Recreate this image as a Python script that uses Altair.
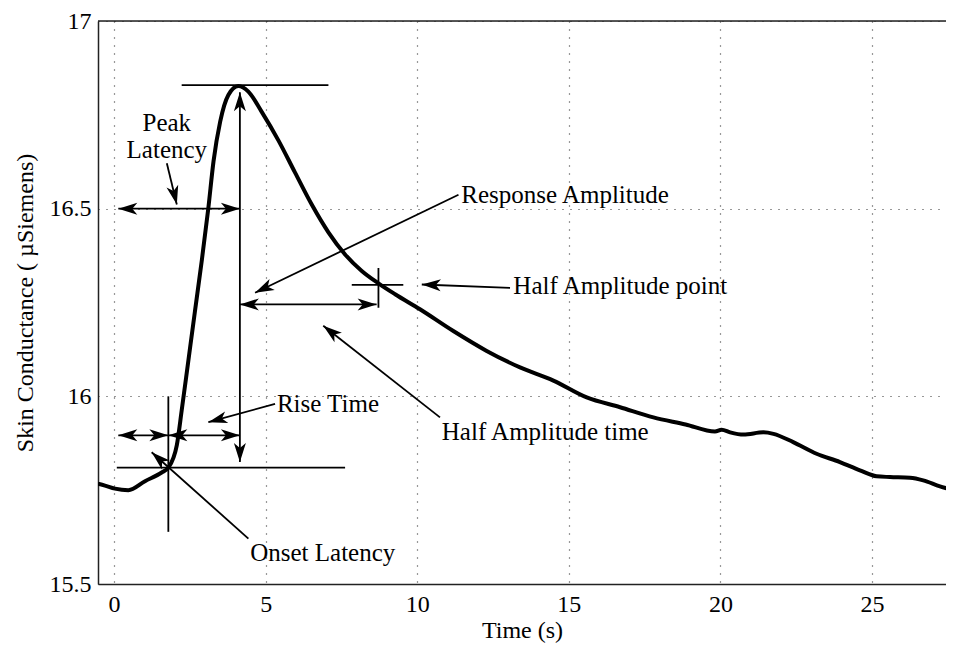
import math
import altair as alt
import pandas as pd

# ---- curve (time in s, skin conductance in microSiemens) ----
time_s = [-0.53, -0.3, 0.03, 0.47, 1.02, 1.57, 1.79, 2.07, 2.23, 2.45, 2.67, 2.89, 3.11, 3.28,
          3.5, 3.77, 4.1, 4.43, 4.87, 5.42, 5.97, 6.52, 7.07, 7.62, 8.17, 8.72, 9.27, 10.09,
          11.19, 12.29, 13.39, 14.49, 15.59, 16.69, 17.79, 18.85, 19.82, 20.04, 20.32, 20.76,
          21.42, 21.75, 22.4, 23.17, 23.94, 24.6, 25.15, 25.59, 26.25, 26.69, 27.24, 27.68]
conductance = [15.767, 15.762, 15.754, 15.750, 15.774, 15.797, 15.81, 15.870, 15.962, 16.095,
               16.228, 16.36, 16.502, 16.626, 16.732, 16.803, 16.827, 16.812, 16.758, 16.682,
               16.596, 16.511, 16.437, 16.378, 16.334, 16.301, 16.272, 16.232, 16.174, 16.121,
               16.077, 16.042, 15.997, 15.971, 15.944, 15.925, 15.906, 15.911, 15.904, 15.898,
               15.904, 15.9, 15.878, 15.847, 15.825, 15.803, 15.787, 15.785, 15.783, 15.776,
               15.76, 15.75]

# ---- annotation segments ----
seg_x1 = [2.23, 4.15, 0.09, 1.79, 0.14, 1.79, 0.14, 1.74, 11.36, 4.15, 8.72, 7.84, 13.06, 10.75, 5.31, 4.43]
seg_y1 = [16.829, 15.825, 15.81, 15.639, 15.896, 15.896, 16.5, 16.621, 16.537, 16.245, 16.236, 16.297,
          16.289, 15.944, 15.98, 15.621]
seg_x2 = [7.07, 4.15, 7.62, 1.79, 1.79, 4.15, 4.15, 2.07, 4.65, 8.66, 8.72, 9.54, 10.15, 6.9, 3.11, 1.24]
seg_y2 = [16.829, 16.81, 15.81, 16.0, 15.896, 15.896, 16.5, 16.511, 16.276, 16.245, 16.342, 16.297,
          16.298, 16.188, 15.931, 15.851]
head_start = [False, True, False, False, True, True, True, False, False, True, False, False, False, False, False, False]
head_end = [False, True, False, False, True, True, True, True, True, True, False, False, True, True, True, True]

# ---- annotation texts ----
left_text = ["Response Amplitude", "Half Amplitude point", "Half Amplitude time", "Rise Time", "Onset Latency"]
left_x = [11.45, 13.17, 10.81, 5.37, 4.49]
left_y = [16.537, 16.294, 15.904, 15.98, 15.582]
center_text = ["Peak", "Latency"]
center_x = [1.74, 1.74]
center_y = [16.727, 16.657]

x_ticks = [0, 5, 10, 15, 20, 25]
y_ticks = [15.5, 16, 16.5, 17]

X_DOMAIN = [-0.53, 27.44]
Y_DOMAIN = [15.5, 17.0]
W, H = 848, 563
FONT = "Liberation Serif"

sx = W / (X_DOMAIN[1] - X_DOMAIN[0])
sy = H / (Y_DOMAIN[1] - Y_DOMAIN[0])


def head_angle(xa, ya, xb, yb):
    dx = (xb - xa) * sx
    dy = -(yb - ya) * sy
    return math.degrees(math.atan2(dx, -dy)) % 360


hx, hy, ha = [], [], []
for i in range(len(seg_x1)):
    if head_end[i]:
        hx.append(seg_x2[i]); hy.append(seg_y2[i])
        ha.append(head_angle(seg_x1[i], seg_y1[i], seg_x2[i], seg_y2[i]))
    if head_start[i]:
        hx.append(seg_x1[i]); hy.append(seg_y1[i])
        ha.append(head_angle(seg_x2[i], seg_y2[i], seg_x1[i], seg_y1[i]))

curve_df = pd.DataFrame({"x": time_s, "y": conductance})
seg_df = pd.DataFrame({"x": seg_x1, "y": seg_y1, "x2": seg_x2, "y2": seg_y2})
head_df = pd.DataFrame({"x": hx, "y": hy, "angle": ha})
left_df = pd.DataFrame({"label": left_text, "x": left_x, "y": left_y})
center_df = pd.DataFrame({"label": center_text, "x": center_x, "y": center_y})
top_df = pd.DataFrame({"y": [Y_DOMAIN[1]]})

xs = alt.Scale(domain=X_DOMAIN, nice=False, zero=False)
ys = alt.Scale(domain=Y_DOMAIN, nice=False, zero=False)
common_axis = dict(
    labelFont=FONT, labelFontSize=24, labelColor="black",
    titleFont=FONT, titleFontSize=24, titleColor="black", titleFontWeight="normal",
    domainColor="#222", domainWidth=1.5, ticks=False,
    gridColor="#333", gridDash=[1, 7], gridWidth=1.2, gridOpacity=1,
    labelOverlap=False, labelFlush=False, grid=True,
)
x_axis = alt.Axis(values=x_ticks, labelPadding=8, titlePadding=2, **common_axis)
y_axis = alt.Axis(values=y_ticks, format="~g", labelPadding=7, titlePadding=12, **common_axis)
X_TITLE = "Time (s)"
Y_TITLE = "Skin Conductance ( µSiemens)"


def X():
    return alt.X("x:Q", scale=xs, axis=x_axis, title=X_TITLE)


def Y():
    return alt.Y("y:Q", scale=ys, axis=y_axis, title=Y_TITLE)


curve = alt.Chart(curve_df).mark_line(
    color="black", strokeWidth=4, interpolate="monotone", clip=True
).encode(x=X(), y=Y())

segs = alt.Chart(seg_df).mark_rule(color="black", strokeWidth=1.8).encode(
    x=X(), y=Y(), x2="x2:Q", y2="y2:Q",
)

heads = alt.Chart(head_df).mark_point(
    shape="M0,0L0.6,1.9L0,1.4L-0.6,1.9Z", filled=True, color="black", size=400, opacity=1
).encode(x=X(), y=Y(), angle=alt.Angle("angle:Q", scale=None))

texts_left = alt.Chart(left_df).mark_text(
    align="left", baseline="middle", font=FONT, fontSize=25, color="black"
).encode(x=X(), y=Y(), text="label:N")

texts_center = alt.Chart(center_df).mark_text(
    align="center", baseline="middle", font=FONT, fontSize=25, color="black"
).encode(x=X(), y=Y(), text="label:N")

top_frame = alt.Chart(top_df).mark_rule(color="#222", strokeWidth=1.5).encode(y=Y())

chart = alt.layer(curve, segs, heads, texts_left, texts_center, top_frame).properties(
    width=W, height=H,
    autosize=alt.AutoSizeParams(type="none"),
    padding={"left": 90, "top": 13, "right": 0, "bottom": 60},
    background="white",
).configure_view(stroke=None).configure(font=FONT)

chart.save("out.html", embed_options={"renderer": "svg", "actions": False})
